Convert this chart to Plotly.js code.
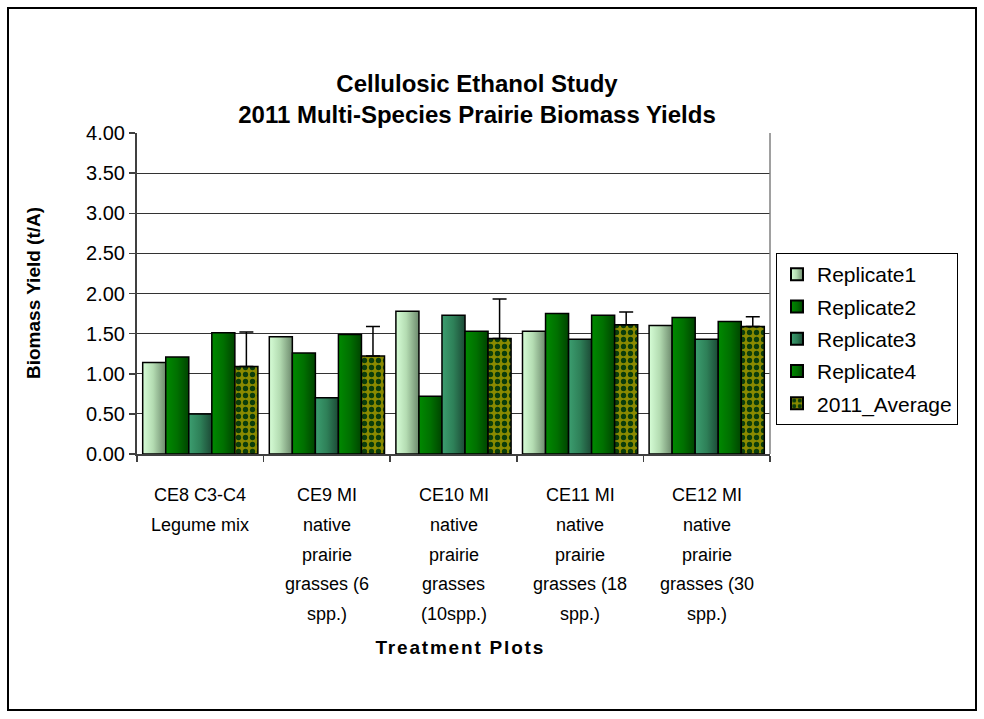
<!DOCTYPE html>
<html>
<head>
<meta charset="utf-8">
<script src="https://cdn.plot.ly/plotly-3.0.1.min.js"></script>
<style>
  html, body { margin: 0; padding: 0; background: #ffffff; }
  #chart { width: 984px; height: 719px; }
  .annotation[data-index="1"] text { letter-spacing: 1.8px; }
</style>
</head>
<body>
<svg width="0" height="0" style="position:absolute">
  <defs>
    <linearGradient id="gradR1" x1="0" y1="0" x2="1" y2="0">
      <stop offset="0" stop-color="#d6fdd6"/>
      <stop offset="0.45" stop-color="#b4dcb2"/>
      <stop offset="1" stop-color="#6d8a6d"/>
    </linearGradient>
    <linearGradient id="gradR2" x1="0" y1="0" x2="1" y2="0">
      <stop offset="0" stop-color="#008a00"/>
      <stop offset="0.5" stop-color="#007000"/>
      <stop offset="1" stop-color="#004400"/>
    </linearGradient>
    <linearGradient id="gradR3" x1="0" y1="0" x2="1" y2="0">
      <stop offset="0" stop-color="#3c9e70"/>
      <stop offset="0.5" stop-color="#2e8058"/>
      <stop offset="1" stop-color="#1c4a36"/>
    </linearGradient>
  </defs>
</svg>
<div id="chart"></div>
<script>
// ---- data ----
const categories = [
  "CE8 C3-C4<br>Legume mix",
  "CE9 MI<br>native<br>prairie<br>grasses (6<br>spp.)",
  "CE10 MI<br>native<br>prairie<br>grasses<br>(10spp.)",
  "CE11 MI<br>native<br>prairie<br>grasses (18<br>spp.)",
  "CE12 MI<br>native<br>prairie<br>grasses (30<br>spp.)"
];
const seriesNames = ["Replicate1", "Replicate2", "Replicate3", "Replicate4", "2011_Average"];
const replicate1 = [1.14, 1.46, 1.78, 1.53, 1.60];
const replicate2 = [1.21, 1.26, 0.72, 1.75, 1.70];
const replicate3 = [0.50, 0.70, 1.73, 1.43, 1.43];
const replicate4 = [1.51, 1.49, 1.53, 1.73, 1.65];
const average2011 = [1.09, 1.22, 1.44, 1.61, 1.59];
const averageErrorPlus = [0.43, 0.37, 0.49, 0.16, 0.12];
const yTickValues = [0, 0.5, 1, 1.5, 2, 2.5, 3, 3.5, 4];

// ---- styles ----
const FONT = "Liberation Sans, Arial, sans-serif";
const outline = { color: "#000000", width: 1.5 };
const fills = ["#acd6aa", "#006a00", "#2e8658", "#006a00"];
const gradients = ["gradR1", "gradR2", "gradR3", "gradR2"];
const values = [replicate1, replicate2, replicate3, replicate4];

const traces = values.map((v, i) => ({
  type: "bar",
  name: seriesNames[i],
  x: categories,
  y: v,
  legendgroup: "g" + i,
  marker: { color: fills[i], line: outline },
  hoverinfo: "x+y+name"
}));

traces.push({
  type: "bar",
  name: seriesNames[4],
  x: categories,
  y: average2011,
  legendgroup: "g4",
  marker: {
    color: "#7f7f00",
    line: outline,
    pattern: { shape: ".", fgcolor: "#0b3d0b", bgcolor: "#8a8a00", size: 7, solidity: 0.45, fillmode: "replace" }
  },
  error_y: {
    type: "data",
    symmetric: false,
    array: averageErrorPlus,
    arrayminus: averageErrorPlus.map(() => 0),
    color: "#000000",
    thickness: 1.5,
    width: 7
  }
});

// plot-area pixel box used for paper conversions
const L = 137, R = 770, T = 133, B = 454, W = 984, H = 719;
const px2x = p => (p - L) / (R - L);
const py2y = p => (B - p) / (B - T);

// category labels drawn line by line (wider line spacing than Plotly's default)
const labelAnnotations = [];
categories.forEach((c, ci) => {
  c.split("<br>").forEach((line, li) => {
    labelAnnotations.push({
      text: line,
      xref: "x", yref: "paper",
      x: ci, y: 0,
      xanchor: "center", yanchor: "middle",
      yshift: -(41 + 29.8 * li),
      showarrow: false,
      font: { family: FONT, size: 18, color: "#000000" }
    });
  });
});

const layout = {
  width: W,
  height: H,
  margin: { l: L, r: W - R, t: T, b: H - B, pad: 0 },
  paper_bgcolor: "#ffffff",
  plot_bgcolor: "#ffffff",
  font: { family: FONT, size: 18, color: "#000000" },
  title: {
    text: "<b>Cellulosic Ethanol Study<br>2011 Multi-Species Prairie Biomass Yields</b>",
    font: { family: FONT, size: 24, color: "#000000" },
    x: 477 / W,
    xanchor: "center",
    y: 1 - 92 / H,
    yanchor: "middle",
    xref: "container",
    yref: "container"
  },
  barmode: "group",
  bargap: 0.09,
  bargroupgap: 0,
  showlegend: true,
  legend: {
    x: px2x(776),
    xanchor: "left",
    y: py2y(253),
    yanchor: "top",
    bgcolor: "#ffffff",
    bordercolor: "#000000",
    borderwidth: 1,
    font: { family: FONT, size: 21, color: "#000000" },
    traceorder: "grouped",
    tracegroupgap: 2,
    itemwidth: 30,
    itemsizing: "constant"
  },
  xaxis: {
    type: "category",
    showline: true,
    linecolor: "#404040",
    linewidth: 2,
    ticks: "outside",
    tickson: "boundaries",
    ticklen: 6,
    tickcolor: "#404040",
    tickwidth: 1.5,
    showticklabels: false,
    showgrid: false,
    zeroline: false,
    fixedrange: true
  },
  yaxis: {
    range: [0, 4],
    tickvals: yTickValues,
    tickformat: ".2f",
    showline: true,
    linecolor: "#404040",
    linewidth: 2,
    ticks: "outside",
    ticklen: 6,
    tickcolor: "#404040",
    tickwidth: 1.5,
    tickfont: { family: FONT, size: 20, color: "#000000" },
    showgrid: true,
    gridcolor: "#333333",
    gridwidth: 1,
    zeroline: false,
    fixedrange: true
  },
  annotations: [
    {
      text: "<b>Biomass Yield (t/A)</b>",
      xref: "paper", yref: "paper",
      x: px2x(33), y: py2y(293),
      xanchor: "center", yanchor: "middle",
      textangle: -90, showarrow: false,
      font: { family: FONT, size: 19, color: "#000000" }
    },
    {
      text: "<b>Treatment Plots</b>",
      xref: "paper", yref: "paper",
      x: px2x(460), y: py2y(647),
      xanchor: "center", yanchor: "middle",
      showarrow: false,
      font: { family: FONT, size: 19, color: "#000000" }
    }
  ].concat(labelAnnotations),
  shapes: [
    {
      type: "rect", xref: "paper", yref: "paper",
      x0: px2x(8), x1: px2x(976), y0: py2y(710), y1: py2y(8),
      line: { color: "#000000", width: 2 }, fillcolor: "rgba(0,0,0,0)", layer: "below"
    },
    {
      type: "line", xref: "paper", yref: "paper",
      x0: 1, x1: 1, y0: 0, y1: 1,
      line: { color: "#808080", width: 1.5 }, layer: "above"
    }
  ]
};

Plotly.newPlot("chart", traces, layout, { displayModeBar: false, staticPlot: true }).then(gd => {
  // horizontal shading of the replicate bars, as in the original chart
  const barTraces = gd.querySelectorAll(".barlayer .trace.bars");
  barTraces.forEach((t, i) => {
    if (i < gradients.length) {
      t.querySelectorAll("path").forEach(p => { p.style.fill = "url(#" + gradients[i] + ")"; });
    }
  });
  const legendTraces = gd.querySelectorAll(".legend .traces");
  legendTraces.forEach((t, i) => {
    if (i < gradients.length) {
      t.querySelectorAll(".legendpoints path").forEach(p => { p.style.fill = "url(#" + gradients[i] + ")"; });
    }
  });
});
</script>
</body>
</html>
